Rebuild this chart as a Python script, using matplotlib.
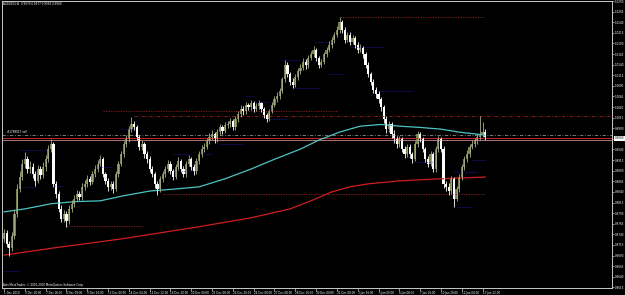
"""AUDUSD H4 candlestick chart, MetaTrader style."""
import matplotlib

matplotlib.use("Agg")
import matplotlib.pyplot as plt
import matplotlib.transforms as mtransforms
import numpy as np

# ---- data ----
first_open = 0.9730
closes = [
    0.9742, 0.9718, 0.9707, 0.9735, 0.9788, 0.9847, 0.9875, 0.9906, 0.9917, 0.9894,
    0.9899, 0.9882, 0.9866, 0.9894, 0.9880, 0.9899, 0.9917, 0.9941, 0.9952, 0.9859,
    0.9835, 0.9800, 0.9777, 0.9788, 0.9772, 0.9800, 0.9812, 0.9824, 0.9835, 0.9828,
    0.9852, 0.9859, 0.9871, 0.9864, 0.9882, 0.9894, 0.9906, 0.9917, 0.9882, 0.9866,
    0.9852, 0.9859, 0.9847, 0.9882, 0.9906, 0.9929, 0.9952, 0.9964, 0.9988, 0.9999,
    0.9992, 0.9969, 0.9945, 0.9952, 0.9929, 0.9917, 0.9894, 0.9882, 0.9859, 0.9847,
    0.9871, 0.9882, 0.9894, 0.9906, 0.9889, 0.9875, 0.9899, 0.9913, 0.9894, 0.9882,
    0.9906, 0.9917, 0.9899, 0.9889, 0.9913, 0.9929, 0.9941, 0.9946, 0.9960, 0.9969,
    0.9976, 0.9964, 0.9981, 0.9992, 0.9983, 0.9997, 0.9999, 1.0006, 0.9992, 1.0011,
    1.0023, 1.0035, 1.0030, 1.0044, 1.0039, 1.0049, 1.0035, 1.0042, 1.0049, 1.0035,
    1.0021, 1.0011, 1.0030, 1.0046, 1.0058, 1.0067, 1.0077, 1.0105, 1.0140, 1.0117,
    1.0100, 1.0093, 1.0110, 1.0124, 1.0133, 1.0147, 1.0138, 1.0156, 1.0164, 1.0175,
    1.0156, 1.0140, 1.0147, 1.0164, 1.0175, 1.0187, 1.0199, 1.0210, 1.0222, 1.0241,
    1.0222, 1.0199, 1.0210, 1.0194, 1.0203, 1.0187, 1.0175, 1.0180, 1.0164, 1.0140,
    1.0117, 1.0100, 1.0081, 1.0070, 1.0058, 1.0039, 1.0011, 0.9988, 0.9999, 0.9976,
    0.9964, 0.9952, 0.9964, 0.9941, 0.9929, 0.9946, 0.9929, 0.9917, 0.9952, 0.9976,
    0.9964, 0.9941, 0.9917, 0.9906, 0.9929, 0.9894, 0.9941, 0.9964, 0.9941, 0.9859,
    0.9852, 0.9842, 0.9871, 0.9824, 0.9847, 0.9875, 0.9899, 0.9917, 0.9929, 0.9946,
    0.9952, 0.9960, 0.9969, 0.9976, 0.9981, 0.9969,
]
highs = [
    0.9752, 0.9750, 0.9725, 0.9745, 0.9797, 0.9858, 0.9890, 0.9918, 0.9935, 0.9925,
    0.9912, 0.9908, 0.9890, 0.9903, 0.9900, 0.9910, 0.9928, 0.9950, 0.9964, 0.9958,
    0.9866, 0.9842, 0.9808, 0.9797, 0.9795, 0.9808, 0.9822, 0.9833, 0.9845, 0.9842,
    0.9860, 0.9868, 0.9880, 0.9878, 0.9890, 0.9903, 0.9915, 0.9928, 0.9922, 0.9888,
    0.9872, 0.9866, 0.9865, 0.9890, 0.9913, 0.9937, 0.9960, 0.9975, 0.9996, 1.0016,
    1.0008, 0.9998, 0.9975, 0.9962, 0.9958, 0.9936, 0.9924, 0.9902, 0.9888, 0.9866,
    0.9878, 0.9890, 0.9902, 0.9916, 0.9912, 0.9895, 0.9906, 0.9922, 0.9918, 0.9900,
    0.9914, 0.9927, 0.9922, 0.9905, 0.9920, 0.9936, 0.9950, 0.9955, 0.9968, 0.9978,
    0.9985, 0.9982, 0.9988, 1.0000, 0.9998, 1.0004, 1.0008, 1.0014, 1.0011, 1.0018,
    1.0030, 1.0044, 1.0042, 1.0052, 1.0050, 1.0056, 1.0054, 1.0050, 1.0057, 1.0053,
    1.0040, 1.0026, 1.0036, 1.0053, 1.0065, 1.0075, 1.0086, 1.0112, 1.0152, 1.0146,
    1.0122, 1.0108, 1.0117, 1.0131, 1.0142, 1.0155, 1.0153, 1.0163, 1.0172, 1.0184,
    1.0180, 1.0160, 1.0154, 1.0170, 1.0182, 1.0195, 1.0206, 1.0218, 1.0230, 1.0253,
    1.0246, 1.0228, 1.0218, 1.0216, 1.0211, 1.0208, 1.0193, 1.0188, 1.0185, 1.0170,
    1.0146, 1.0123, 1.0106, 1.0088, 1.0077, 1.0064, 1.0045, 1.0018, 1.0008, 1.0005,
    0.9985, 0.9972, 0.9971, 0.9970, 0.9948, 0.9954, 0.9952, 0.9935, 0.9960, 0.9984,
    0.9982, 0.9970, 0.9947, 0.9924, 0.9936, 0.9934, 0.9948, 0.9972, 0.9970, 0.9948,
    0.9866, 0.9860, 0.9878, 0.9876, 0.9855, 0.9882, 0.9906, 0.9924, 0.9938, 0.9953,
    0.9962, 0.9968, 0.9976, 1.0018, 1.0005, 0.9988,
]
lows = [
    0.9722, 0.9710, 0.9689, 0.9700, 0.9728, 0.9780, 0.9840, 0.9868, 0.9897, 0.9885,
    0.9884, 0.9872, 0.9855, 0.9860, 0.9870, 0.9872, 0.9890, 0.9910, 0.9935, 0.9852,
    0.9825, 0.9792, 0.9768, 0.9770, 0.9758, 0.9765, 0.9793, 0.9805, 0.9818, 0.9820,
    0.9822, 0.9845, 0.9852, 0.9856, 0.9858, 0.9876, 0.9888, 0.9900, 0.9875, 0.9858,
    0.9843, 0.9845, 0.9838, 0.9842, 0.9876, 0.9900, 0.9922, 0.9945, 0.9958, 0.9982,
    0.9985, 0.9962, 0.9938, 0.9938, 0.9920, 0.9908, 0.9886, 0.9874, 0.9850, 0.9833,
    0.9840, 0.9864, 0.9876, 0.9888, 0.9882, 0.9868, 0.9870, 0.9892, 0.9886, 0.9874,
    0.9876, 0.9900, 0.9892, 0.9880, 0.9883, 0.9906, 0.9922, 0.9934, 0.9940, 0.9953,
    0.9962, 0.9956, 0.9958, 0.9975, 0.9976, 0.9978, 0.9990, 0.9992, 0.9985, 0.9987,
    1.0005, 1.0016, 1.0022, 1.0024, 1.0032, 1.0033, 1.0028, 1.0030, 1.0036, 1.0028,
    1.0014, 1.0004, 1.0006, 1.0025, 1.0040, 1.0052, 1.0060, 1.0072, 1.0100, 1.0110,
    1.0092, 1.0085, 1.0088, 1.0104, 1.0118, 1.0127, 1.0130, 1.0133, 1.0150, 1.0158,
    1.0148, 1.0132, 1.0134, 1.0142, 1.0158, 1.0170, 1.0180, 1.0192, 1.0204, 1.0215,
    1.0214, 1.0192, 1.0194, 1.0186, 1.0188, 1.0180, 1.0168, 1.0170, 1.0156, 1.0132,
    1.0110, 1.0092, 1.0074, 1.0062, 1.0050, 1.0030, 1.0002, 0.9978, 0.9982, 0.9968,
    0.9955, 0.9944, 0.9945, 0.9933, 0.9920, 0.9922, 0.9921, 0.9908, 0.9912, 0.9946,
    0.9957, 0.9934, 0.9910, 0.9898, 0.9900, 0.9886, 0.9888, 0.9935, 0.9934, 0.9850,
    0.9843, 0.9832, 0.9836, 0.9805, 0.9818, 0.9840, 0.9868, 0.9892, 0.9910, 0.9922,
    0.9940, 0.9945, 0.9952, 0.9962, 0.9970, 0.9962,
]

# moving averages (bar index, price)
ma_fast_bars = [0, 8, 18, 27, 37, 46, 56, 66, 75, 85, 95, 104, 114, 121, 129, 137,
                145, 152, 160, 168, 175, 185]
ma_fast = [0.9793, 0.9800, 0.9812, 0.9817, 0.9819, 0.9831, 0.9842, 0.9847, 0.9852,
           0.9871, 0.9894, 0.9917, 0.9941, 0.9962, 0.9981, 0.9995, 0.9999, 0.9995,
           0.9992, 0.9988, 0.9981, 0.9974]
ma_slow_bars = [0, 18, 46, 75, 95, 110, 118, 126, 133, 140, 152, 168, 185]
ma_slow = [0.9691, 0.9707, 0.9730, 0.9758, 0.9779, 0.9800, 0.9819, 0.9840, 0.9852,
           0.9859, 0.9866, 0.9871, 0.9875]

# red dotted levels: (start bar, end bar or None = to the axis, price)
red_levels = [
    (129, 185, 1.0252),
    (38, 128, 1.0030),
    (50, None, 1.0019),
    (24, 53, 0.9760),
    (61, 185, 0.9836),
]
# short dark blue dotted levels
blue_levels = [
    (0, 6, 0.9653), (6, 16, 0.9939), (7, 12, 0.9852), (19, 23, 0.9854),
    (36, 41, 0.9899), (45, 50, 0.9988), (65, 72, 0.9929), (68, 74, 0.9889),
    (75, 80, 0.9929), (83, 92, 0.9952), (93, 96, 1.0065), (97, 102, 1.0051),
    (102, 109, 1.0011), (107, 114, 1.0152), (111, 122, 1.0086), (120, 127, 1.0194),
    (125, 130, 1.0119), (133, 146, 1.0182), (144, 157, 1.0077), (157, 165, 0.9910),
    (173, 182, 0.9887), (180, 185, 0.9915), (174, 180, 0.9805),
]
order_price = 0.9974
bid_price = 0.9967
ask_price = 0.9962

date_labels = [
    "1 Dec 2010", "3 Dec 20:00", "7 Dec 00:00", "8 Dec 08:00", "9 Dec 16:00",
    "13 Dec 00:00", "14 Dec 04:00", "15 Dec 12:00", "16 Dec 20:00", "20 Dec 00:00",
    "21 Dec 08:00", "22 Dec 16:00", "24 Dec 00:00", "27 Dec 08:00", "28 Dec 16:00",
    "30 Dec 00:00", "31 Dec 08:00", "3 Jan 16:00", "5 Jan 00:00", "6 Jan 08:00",
    "7 Jan 16:00", "10 Jan 20:00", "12 Jan 04:00", "13 Jan 12:00",
]
price_ticks = np.arange(0.9615, 1.0291, 0.0025)

# ---- drawing ----
closes = np.array(closes)
highs = np.array(highs)
lows = np.array(lows)
opens = np.concatenate([[first_open], closes[:-1]])
bars = np.arange(len(closes))
up = closes >= opens

BULL = "#77824a"
BEAR = "#ffffff"
FG = "#c8c8c8"
TS = 2.0

fig = plt.figure(figsize=(6.25, 2.95), dpi=100, facecolor="black")
ax = fig.add_axes([2 / 625, 7 / 295, 610 / 625, 287.5 / 295], facecolor="black")
ax.set_xlim(-0.8, 233.8)
ax.set_ylim(0.96135, 1.02912)

# horizontal levels
for x0, x1, p in red_levels:
    x1 = 233.8 if x1 is None else x1
    ls = (0, (4, 2, 1, 2)) if x1 > 200 else (0, (1.5, 1.5))
    ax.hlines(p, x0, x1, colors="#9a2222", linestyles=ls, linewidth=0.6)
for x0, x1, p in blue_levels:
    ax.hlines(p, x0, x1, colors="#1c1c9c", linestyles=(0, (1.2, 1.2)), linewidth=0.6)
ax.axhline(order_price, color="#8a8a8a", linestyle=(0, (4, 2, 1, 2)), linewidth=0.6)
ax.axhline(bid_price, color="#c02828", linewidth=0.7)
ax.axhline(ask_price, color="#c88888", linewidth=0.6)

# moving averages
ax.plot(ma_slow_bars, ma_slow, color="#d01e1e", linewidth=0.9)
ax.plot(ma_fast_bars, ma_fast, color="#4cc4c4", linewidth=0.9)

# candles
wick_col = np.where(up, "#a8ad8c", BEAR)
ax.vlines(bars, lows, highs, colors=wick_col, linewidth=0.6)
body_h = np.maximum(np.abs(closes - opens), 0.0003)
body_b = np.minimum(closes, opens)
ax.bar(bars, body_h, bottom=body_b, width=0.8,
       color=np.where(up, BULL, BEAR), edgecolor="none")

# axes look
for side in ("left", "right", "top", "bottom"):
    ax.spines[side].set_color(FG)
    ax.spines[side].set_linewidth(0.7)
ax.yaxis.tick_right()
ax.set_yticks(price_ticks)
ax.set_yticklabels([f"{p:.4f}" for p in price_ticks])
ax.tick_params(axis="y", colors=FG, labelcolor="white", labelsize=TS,
               length=1.2, width=0.5, pad=0.6)
ax.set_xticks(np.arange(len(date_labels)) * 8)
ax.set_xticklabels(date_labels, ha="left")
ax.tick_params(axis="x", colors=FG, labelcolor="white", labelsize=TS,
               length=2.0, width=0.5, pad=0.3)

# current price tag on the axis
tr = mtransforms.blended_transform_factory(ax.transAxes, ax.transData)
ax.text(1.004, closes[-1] - 0.0003, f"{closes[-1]:.4f}", transform=tr, fontsize=TS,
        color="black", va="center", ha="left", clip_on=False,
        bbox=dict(boxstyle="square,pad=0.25", fc="white", ec="none"))

# texts
fig.text(3 / 625, 1 - 4 / 295, "AUDUSD,H4  0.9976 0.9977 0.9969 0.9969",
         fontsize=TS, color="white", va="center", ha="left")
ax.text(1, order_price + 0.0002, "#1789017 sell", fontsize=TS, color="white",
        va="bottom", ha="left")
fig.text(3 / 625, 1 - 287 / 295,
         "Axis MetaTrader, \u00a9 2001-2010 MetaQuotes Software Corp.",
         fontsize=TS, color="white", va="bottom", ha="left")

fig.savefig("out.png", dpi=100, facecolor="black")
